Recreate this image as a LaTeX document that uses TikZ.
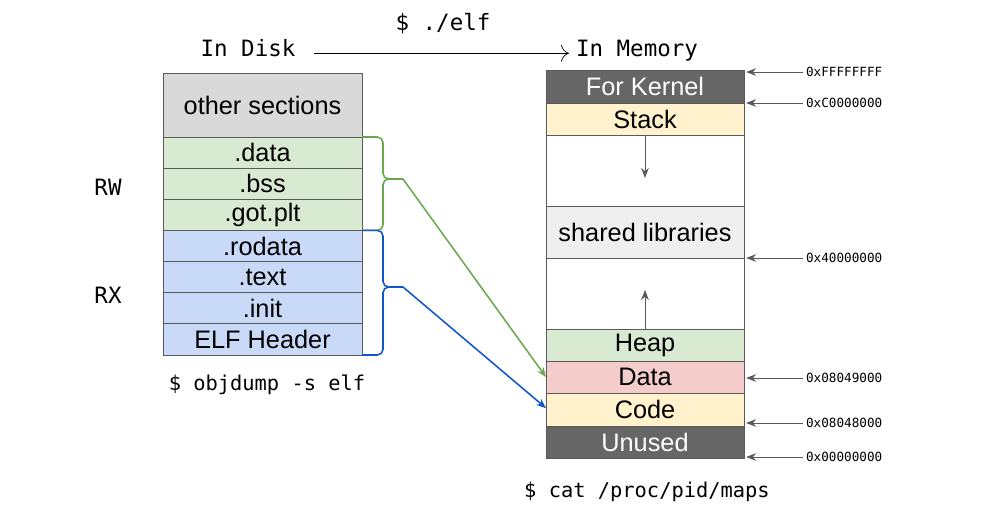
\documentclass[tikz,border=0pt]{standalone}
\usepackage{fontspec}
\setmainfont{Liberation Sans}
\setmonofont{DejaVu Sans Mono}
\usepackage{tikz}
\usetikzlibrary{arrows.meta}

\definecolor{secgray}{HTML}{D9D9D9}
\definecolor{rwfill}{HTML}{D9EAD3}
\definecolor{rxfill}{HTML}{C9DAF8}
\definecolor{kernfill}{HTML}{666666}
\definecolor{stackfill}{HTML}{FFF2CC}
\definecolor{libfill}{HTML}{EFEFEF}
\definecolor{datafill}{HTML}{F4CCCC}
\definecolor{rwline}{HTML}{6AA84F}
\definecolor{rxline}{HTML}{1155CC}
\definecolor{edge}{HTML}{595959}

\begin{document}
\begin{tikzpicture}[x=0.025cm,y=-0.025cm,>={Stealth[length=2.4mm,width=1.9mm]},
    seg/.style={draw=edge,line width=0.6pt,inner sep=0pt,outer sep=0pt,
      minimum width=4.975cm,minimum height=0.778cm,font=\fontsize{18}{20}\selectfont},
    mem/.style={seg,minimum width=4.95cm},
    addr/.style={anchor=west,inner sep=2pt,font=\ttfamily\fontsize{9}{10}\selectfont},
    addrarrow/.style={-{Stealth[length=2.5mm,width=1.9mm]},draw=edge,line width=0.7pt},
    head/.style={font=\ttfamily\fontsize{16}{18}\selectfont},
    cmd/.style={anchor=base,font=\ttfamily\fontsize{14.5}{16}\selectfont}]

    \useasboundingbox (0,0) rectangle (1006,511);

    % titles
    \node[head,anchor=base] (disk) at (248,57) {In Disk};
    \node[head,anchor=base] (memory) at (637,57) {In Memory};
    \node[head,anchor=base] (run) at (443,31) {\$ ./elf};
    \draw[-{To[length=2mm]},line width=0.5pt,shorten <=0.35cm,shorten >=1.5pt] (disk.mid east) -- (memory.mid west);

    \node[head] (rw) at (108,187) {RW};
    \node[head] (rx) at (108,295) {RX};

    % sections on disk
    \node[seg,fill=secgray,minimum height=1.6cm] (other) at (262.5,105) {other sections};
    \node[seg,fill=rwfill] (data) at (262.5,152.57) {.data};
    \node[seg,fill=rwfill] (bss) at (262.5,183.71) {.bss};
    \node[seg,fill=rwfill] (gotplt) at (262.5,214.86) {.got.plt};
    \node[seg,fill=rxfill] (rodata) at (262.5,246) {.rodata};
    \node[seg,fill=rxfill] (text) at (262.5,277.14) {.text};
    \node[seg,fill=rxfill] (init) at (262.5,308.29) {.init};
    \node[seg,fill=rxfill] (elfhdr) at (262.5,339.43) {ELF Header};

    \node[cmd] (objdump) at (267,390) {\$ objdump -s elf};

    % layout in memory
    \node[mem,fill=kernfill,text=white,minimum height=0.825cm] (kernel) at (645,86.5) {For Kernel};
    \node[mem,fill=stackfill,minimum height=0.8cm] (stack) at (645,119) {Stack};
    \node[mem,minimum height=1.775cm] (gapa) at (645,170.5) {};
    \node[mem,fill=libfill,minimum height=1.3cm] (shlib) at (645,232) {shared libraries};
    \node[mem,minimum height=1.775cm] (gapb) at (645,293.5) {};
    \node[mem,fill=rwfill,minimum height=0.8cm] (heap) at (645,345) {Heap};
    \node[mem,fill=datafill,minimum height=0.8cm] (memdata) at (645,377) {Data};
    \node[mem,fill=stackfill,minimum height=0.825cm] (code) at (645,409.5) {Code};
    \node[mem,fill=kernfill,text=white,minimum height=0.8cm] (unused) at (645,442) {Unused};

    \node[cmd] (maps) at (647,497) {\$ cat /proc/pid/maps};

    \coordinate (stackend) at (645,178);
    \coordinate (heapend) at (645,290);
    \draw[addrarrow] (stack.south) -- (stackend);
    \draw[addrarrow] (heap.north) -- (heapend);

    % addresses
    \node[addr] (afff) at (803,72) {0xFFFFFFFF};
    \node[addr] (ac00) at (803,103) {0xC0000000};
    \node[addr] (a400) at (803,258) {0x40000000};
    \node[addr] (a049) at (803,378) {0x08049000};
    \node[addr] (a048) at (803,423) {0x08048000};
    \node[addr] (a000) at (803,457) {0x00000000};
    \foreach \a in {afff,ac00,a400,a049,a048,a000}
      \draw[addrarrow] (\a.west) -- ([xshift=1.5pt]\a.west -| kernel.east);

    % braces and mapping
    \coordinate (rwtip) at (403,179);
    \coordinate (rxtip) at (403,287);
    \draw[rwline,line width=1.1pt,rounded corners=4pt] (data.north east) -| (383,179) -- (rwtip);
    \draw[rwline,line width=1.1pt,rounded corners=4pt] (rwtip) -- (383,179) |- (gotplt.south east);
    \draw[rxline,line width=1.1pt,rounded corners=4pt] (rodata.north east) -| (383,287) -- (rxtip);
    \draw[rxline,line width=1.1pt,rounded corners=4pt] (rxtip) -- (383,287) |- (elfhdr.south east);
    \draw[->,rwline,line width=1.1pt] (rwtip) -- (memdata.west);
    \draw[->,rxline,line width=1.1pt] (rxtip) -- ([yshift=1pt]code.west);

\end{tikzpicture}
\end{document}
